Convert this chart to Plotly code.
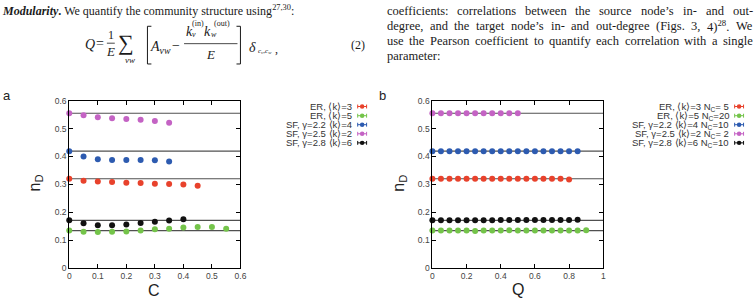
import plotly.graph_objects as go

W, H = 755, 301

# ---------------- data ----------------
# panel a: n_D vs clustering C
C = [0.0, 0.05, 0.10, 0.15, 0.20, 0.25, 0.30, 0.35, 0.40, 0.45, 0.50, 0.55]
a_er3 = [0.320, 0.313, 0.310, 0.308, 0.306, 0.305, 0.302, 0.301, 0.299, 0.295]
a_er5 = [0.134, 0.130, 0.129, 0.130, 0.131, 0.134, 0.139, 0.141, 0.145, 0.147, 0.147, 0.141]
a_sf22 = [0.419, 0.400, 0.390, 0.387, 0.387, 0.387, 0.386, 0.382]
a_sf25 = [0.555, 0.548, 0.541, 0.537, 0.534, 0.532, 0.527, 0.521]
a_sf28 = [0.171, 0.160, 0.153, 0.153, 0.156, 0.161, 0.166, 0.170, 0.175]

# panel b: n_D vs modularity Q
Q = [0.0, 0.05, 0.10, 0.15, 0.20, 0.25, 0.30, 0.35, 0.40, 0.45, 0.50,
     0.55, 0.60, 0.65, 0.70, 0.75, 0.80, 0.85, 0.90]
b_er3 = [0.320, 0.320, 0.320, 0.320, 0.320, 0.320, 0.320, 0.320, 0.320, 0.320,
         0.320, 0.320, 0.320, 0.320, 0.320, 0.320, 0.317]
b_er5 = [0.134, 0.134, 0.134, 0.134, 0.134, 0.133, 0.134, 0.134, 0.134, 0.135,
         0.134, 0.134, 0.134, 0.134, 0.134, 0.134, 0.134, 0.134, 0.135]
b_sf22 = [0.419, 0.419, 0.419, 0.419, 0.419, 0.419, 0.419, 0.419, 0.419, 0.419,
          0.419, 0.419, 0.419, 0.419, 0.419, 0.419, 0.419, 0.419]
b_sf25 = [0.555, 0.555, 0.555, 0.555, 0.555, 0.555, 0.555, 0.555, 0.555, 0.555, 0.555]
b_sf28 = [0.171, 0.171, 0.171, 0.171, 0.171, 0.171, 0.171, 0.171, 0.172, 0.172,
          0.172, 0.172, 0.172, 0.172, 0.172, 0.172, 0.172, 0.173]

# reference levels (random-network values)
levels = [0.320, 0.134, 0.419, 0.555, 0.171]

colors = ["#e8422c", "#74c44a", "#2d5bb0", "#c463c4", "#111111"]
names_a = ["ER, ⟨k⟩=3", "ER, ⟨k⟩=5", "SF, γ=2.2 ⟨k⟩=4", "SF, γ=2.5 ⟨k⟩=2", "SF, γ=2.8 ⟨k⟩=6"]
names_b = ["ER, ⟨k⟩=3 N<sub>C</sub>= 5", "ER, ⟨k⟩=5 N<sub>C</sub>=20",
           "SF, γ=2.2 ⟨k⟩=4 N<sub>C</sub>=10", "SF, γ=2.5 ⟨k⟩=2 N<sub>C</sub>= 2",
           "SF, γ=2.8 ⟨k⟩=6 N<sub>C</sub>=10"]
xticks_a = [0, 0.1, 0.2, 0.3, 0.4, 0.5, 0.6]
xticks_b = [0, 0.2, 0.4, 0.6, 0.8, 1]
yticks = [0, 0.1, 0.2, 0.3, 0.4, 0.5, 0.6]

# article text around the figure
text_left = "<b><i>Modularity</i>.</b> We quantify the community structure using<sup>27,30</sup>:"
text_right = [
    "coefficients: correlations between the source node’s in- and out-",
    "degree, and the target node’s in- and out-degree (Figs. 3, 4)^28. We",
    "use the Pearson coefficient to quantify each correlation with a single",
    "parameter:",
]


def px(x):
    return x / W


def py(y):
    return 1 - y / H


fig = go.Figure()

series_a = [a_er3, a_er5, a_sf22, a_sf25, a_sf28]
series_b = [b_er3, b_er5, b_sf22, b_sf25, b_sf28]

for vals, col in zip(series_a, colors):
    fig.add_trace(go.Scatter(x=C[:len(vals)], y=vals, mode="markers", xaxis="x", yaxis="y",
                             marker=dict(color=col, size=6), cliponaxis=False, showlegend=False))
for vals, col in zip(series_b, colors):
    fig.add_trace(go.Scatter(x=Q[:len(vals)], y=vals, mode="markers", xaxis="x2", yaxis="y2",
                             marker=dict(color=col, size=6), cliponaxis=False, showlegend=False))

shapes = []
for lv in levels:
    shapes.append(dict(type="line", xref="x domain", yref="y", x0=0, x1=1, y0=lv, y1=lv,
                       line=dict(color="#505050", width=1.2), layer="below"))
    shapes.append(dict(type="line", xref="x2 domain", yref="y2", x0=0, x1=1, y0=lv, y1=lv,
                       line=dict(color="#505050", width=1.2), layer="below"))

annotations = []
tickfont = dict(family="Liberation Sans", size=8.5, color="#444444")
legfont = dict(family="Liberation Sans", size=9.5, color="#333333")

# legends (text right-aligned, symbol with horizontal error bar at right)
rows = [105, 114.5, 123.8, 133.2, 142.6]
for (tx_end, sym_c, names) in [(356, 364, names_a), (737, 745, names_b)]:
    for yrow, nm, col in zip(rows, names, colors):
        annotations.append(dict(text=nm, x=px(tx_end), y=py(yrow), xanchor="right", font=legfont))
        shapes.append(dict(type="line", xref="paper", yref="paper", x0=px(sym_c - 4.5), x1=px(sym_c + 4.5),
                           y0=py(yrow), y1=py(yrow), line=dict(color=col, width=1)))
        for e in (-4.5, 4.5):
            shapes.append(dict(type="line", xref="paper", yref="paper", x0=px(sym_c + e), x1=px(sym_c + e),
                               y0=py(yrow - 2), y1=py(yrow + 2), line=dict(color=col, width=1)))
        shapes.append(dict(type="circle", xref="paper", yref="paper", x0=px(sym_c - 2.3), x1=px(sym_c + 2.3),
                           y0=py(yrow - 2.3), y1=py(yrow + 2.3), fillcolor=col, line=dict(width=0)))

# axis titles and panel labels
titlefont = dict(family="Liberation Sans", size=16, color="#222222")
annotations += [
    dict(text="n<sub>D</sub>", x=px(34), y=py(184), textangle=-90, font=titlefont),
    dict(text="n<sub>D</sub>", x=px(402), y=py(184), textangle=-90, font=titlefont),
    dict(text="C", x=px(154), y=py(295), font=titlefont),
    dict(text="Q", x=px(522), y=py(294), font=titlefont),
    dict(text="a", x=px(5), y=py(94), font=dict(family="Liberation Sans", size=13, color="#222")),
    dict(text="b", x=px(385), y=py(94), font=dict(family="Liberation Sans", size=13, color="#222")),
]

# ---------- surrounding article text ----------
serif = "Liberation Serif"
tcol = "#1a1a1a"
annotations.append(dict(text=text_left, x=px(-2), y=py(6), xanchor="left",
                        font=dict(family=serif, size=12, color=tcol)))

# Times / Liberation Serif advance widths (em)
TW = {' ': .25, 'a': .444, 'b': .5, 'c': .444, 'd': .5, 'e': .444, 'f': .333, 'g': .5, 'h': .5,
      'i': .278, 'j': .278, 'k': .5, 'l': .278, 'm': .778, 'n': .5, 'o': .5, 'p': .5, 'q': .5,
      'r': .333, 's': .389, 't': .278, 'u': .5, 'v': .5, 'w': .722, 'x': .5, 'y': .5, 'z': .444,
      'F': .556, 'P': .556, 'W': .944, ',': .25, '.': .25, ':': .278, '-': .333, '(': .333,
      ')': .333, '’': .333}


def word_html_width(word, size):
    if '^' in word:
        pre, rest = word.split('^', 1)
        sup = ''.join(ch for ch in rest if ch.isdigit())
        post = rest[len(sup):]
        html = pre + "<sup>" + sup + "</sup>" + post
        wdt = (sum(TW.get(c, .5) for c in pre) + 0.7 * sum(TW.get(c, .5) for c in sup)
               + sum(TW.get(c, .5) for c in post)) * size
        return html, wdt
    return word, sum(TW.get(c, .5) for c in word) * size


col_x0, col_x1 = 387, 757
rsize = 12.5
line_y = [6, 21.5, 37, 52.5]
for i, (line, yl) in enumerate(zip(text_right, line_y)):
    words = line.split(' ')
    hw = [word_html_width(w, rsize) for w in words]
    if i < len(text_right) - 1 and len(words) > 1:
        gap = (col_x1 - col_x0 - sum(w for _, w in hw)) / (len(words) - 1)
    else:
        gap = TW[' '] * rsize
    xcur = col_x0
    for html, wdt in hw:
        annotations.append(dict(text=html, x=px(xcur), y=py(yl), xanchor="left",
                                font=dict(family=serif, size=rsize, color=tcol)))
        xcur += wdt + gap

# formula pieces
annotations += [
    dict(text="<i>Q</i>", x=px(89), y=py(41), font=dict(family=serif, size=14, color=tcol)),
    dict(text="=", x=px(99), y=py(40), font=dict(family=serif, size=14, color=tcol)),
    dict(text="1", x=px(110), y=py(31), font=dict(family=serif, size=12, color=tcol)),
    dict(text="<i>E</i>", x=px(110), y=py(48), font=dict(family=serif, size=13, color=tcol)),
    dict(text="∑", x=px(125), y=py(39), font=dict(family=serif, size=22, color=tcol)),
    dict(text="<i>vw</i>", x=px(129), y=py(57), font=dict(family=serif, size=9, color=tcol)),
    dict(text="<i>A</i><sub><i>vw</i></sub>", x=px(160), y=py(44), font=dict(family=serif, size=14, color=tcol)),
    dict(text="−", x=px(176), y=py(42), font=dict(family=serif, size=14, color=tcol)),
    dict(text="<i>k</i>", x=px(189.5), y=py(27), font=dict(family=serif, size=14, color=tcol)),
    dict(text="(in)", x=px(198.5), y=py(19), font=dict(family=serif, size=8, color=tcol)),
    dict(text="<i>v</i>", x=px(194.5), y=py(31), font=dict(family=serif, size=8, color=tcol)),
    dict(text="<i>k</i>", x=px(208), y=py(27), font=dict(family=serif, size=14, color=tcol)),
    dict(text="(out)", x=px(222.5), y=py(19), font=dict(family=serif, size=8, color=tcol)),
    dict(text="<i>w</i>", x=px(214), y=py(31), font=dict(family=serif, size=8, color=tcol)),
    dict(text="<i>E</i>", x=px(211), y=py(51), font=dict(family=serif, size=13, color=tcol)),
    dict(text="<i>δ</i>", x=px(253), y=py(44), font=dict(family=serif, size=14, color=tcol)),
    dict(text="<i>c</i><sub><i>v</i></sub>,<i>c</i><sub><i>w</i></sub>", x=px(266), y=py(48),
         font=dict(family=serif, size=7, color=tcol)),
    dict(text=",", x=px(277), y=py(46), font=dict(family=serif, size=12, color=tcol)),
    dict(text="(2)", x=px(360), y=py(41), font=dict(family=serif, size=12, color=tcol)),
]
for a in annotations:
    a.setdefault("xref", "paper")
    a.setdefault("yref", "paper")
    a.setdefault("showarrow", False)
    a.setdefault("xanchor", "center")
    a.setdefault("yanchor", "middle")

# fraction bars and brackets
for (x0, x1, y) in [(106, 114, 39.5), (184, 238, 40)]:
    shapes.append(dict(type="line", xref="paper", yref="paper", x0=px(x0), x1=px(x1), y0=py(y), y1=py(y),
                       line=dict(color=tcol, width=0.8)))
for (xv, xs) in [(147, 151), (241, 237)]:
    shapes.append(dict(type="path", xref="paper", yref="paper",
                       path=f"M {px(xs)},{py(22)} L {px(xv)},{py(22)} L {px(xv)},{py(61)} L {px(xs)},{py(61)}",
                       line=dict(color=tcol, width=1)))

axcommon = dict(showline=True, linecolor="black", linewidth=1, mirror="ticks", ticks="inside",
                ticklen=4, tickcolor="black", tickwidth=1, showgrid=False, zeroline=False,
                tickfont=tickfont, fixedrange=True)

ydom = [py(272), py(99)]
fig.update_layout(
    width=W, height=H, margin=dict(l=0, r=0, t=0, b=0),
    paper_bgcolor="white", plot_bgcolor="white",
    xaxis=dict(domain=[px(68), px(241)], range=[0, 0.6], tickvals=xticks_a, anchor="y", **axcommon),
    yaxis=dict(domain=ydom, range=[0, 0.6], tickvals=yticks, anchor="x", **axcommon),
    xaxis2=dict(domain=[px(435), px(607.7)], range=[0, 1], tickvals=xticks_b,
                ticktext=["0", "0.2", "0.4", "0.6", "0.8", "1"], anchor="y2", **axcommon),
    yaxis2=dict(domain=ydom, range=[0, 0.6], tickvals=yticks, anchor="x2", **axcommon),
    shapes=shapes, annotations=annotations, showlegend=False,
)

fig.write_html("out.html")
